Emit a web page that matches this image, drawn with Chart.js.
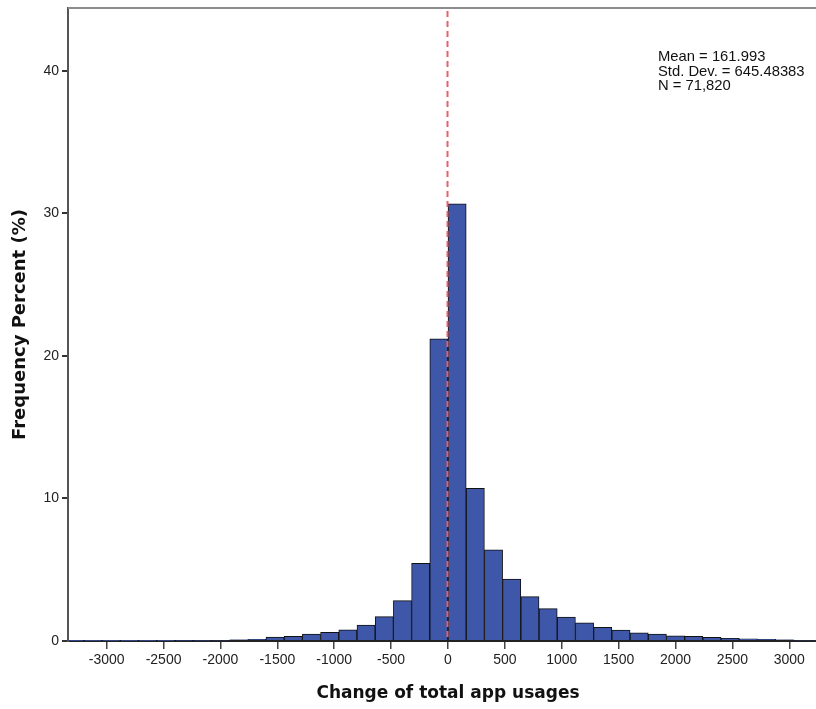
<!DOCTYPE html>
<html><head><meta charset="utf-8">
<script src="https://cdn.jsdelivr.net/npm/chart.js@4.4.1/dist/chart.umd.min.js"></script>
<style>
html,body{margin:0;padding:0;background:#fff;overflow:hidden;width:816px;height:709px}
#wrap{position:relative;width:828px;height:709px}
</style></head>
<body><div id="wrap"><canvas id="c" width="828" height="709"></canvas></div>
<script>
// Bin centres (change of total app usages), bin width 160
const binCenters = [-3280,-3120,-2960,-2800,-2640,-2480,-2320,-2160,-2000,-1840,-1680,-1520,-1360,-1200,-1040,-880,-720,-560,-400,-240,-80,
                    80,240,400,560,720,880,1040,1200,1360,1520,1680,1840,2000,2160,2320,2480,2640,2800,2960,3120,3280];
// Frequency percent per bin
const percents = [0.01,0.01,0.01,0.01,0.02,0.02,0.03,0.03,0.05,0.08,0.12,0.28,0.33,0.49,0.61,0.79,1.12,1.71,2.83,5.45,21.2,
                  30.67,10.7,6.39,4.35,3.11,2.27,1.68,1.28,0.96,0.77,0.58,0.49,0.37,0.33,0.26,0.19,0.15,0.12,0.08,0.06,0.05];
const xTicks = [-3000,-2500,-2000,-1500,-1000,-500,0,500,1000,1500,2000,2500,3000];
const yTicks = [0,10,20,30,40];
const xRange = [-3340, 3340];
const yRange = [0, 44.4];
const refLineValue = 0;
const statsLines = ["Mean = 161.993", "Std. Dev. = 645.48383", "N = 71,820"];
const xTitle = "Change of total app usages";
const yTitle = "Frequency Percent (%)";

const decor = {
  id: 'decor',
  afterDatasetsDraw(chart) {
    const {ctx, chartArea, scales} = chart;
    ctx.save();
    // top frame line
    ctx.strokeStyle = '#8c8c8c';
    ctx.lineWidth = 2;
    ctx.beginPath();
    ctx.moveTo(chartArea.left, chartArea.top);
    ctx.lineTo(chartArea.right, chartArea.top);
    ctx.stroke();
    // reference dashed line
    const x = Math.round(scales.x.getPixelForValue(refLineValue)) - 0.5;
    ctx.strokeStyle = '#e8606c';
    ctx.lineWidth = 2;
    ctx.setLineDash([6, 4]);
    ctx.beginPath();
    ctx.moveTo(x, chartArea.top + 3);
    ctx.lineTo(x, chartArea.bottom);
    ctx.stroke();
    ctx.setLineDash([]);
    // stats text
    ctx.fillStyle = '#111';
    ctx.font = '14.8px "Liberation Sans", Arial, sans-serif';
    ctx.textBaseline = 'alphabetic';
    ctx.textAlign = 'left';
    statsLines.forEach((t, i) => ctx.fillText(t, 658, 61 + i * 14.5));
    ctx.restore();
  }
};

new Chart(document.getElementById('c'), {
  type: 'bar',
  data: {
    datasets: [{
      data: binCenters.map((c, i) => ({x: c, y: percents[i]})),
      backgroundColor: 'rgb(62,87,168)',
      borderColor: '#111',
      borderWidth: 1,
      barPercentage: 1,
      categoryPercentage: 1
    }]
  },
  options: {
    responsive: false,
    devicePixelRatio: 1,
    animation: false,
    layout: {padding: {top: 8, right: 0, left: 0, bottom: 0}},
    plugins: {legend: {display: false}, tooltip: {enabled: false}},
    scales: {
      x: {
        type: 'linear',
        offset: false,
        min: xRange[0], max: xRange[1],
        afterFit(s) { s.height = 68; s.paddingLeft = 0; s.paddingRight = 0; },
        afterBuildTicks(s) { s.ticks = xTicks.map(v => ({value: v})); },
        grid: {offset: false, drawOnChartArea: false, drawTicks: true, tickLength: 8, color: '#444', lineWidth: 1.5},
        border: {display: true, color: '#222', width: 2},
        ticks: {color: '#222', padding: 3, font: {family: '"Liberation Sans", Arial, sans-serif', size: 14}, maxRotation: 0, autoSkip: false,
                callback: v => String(v)},
        title: {display: true, text: xTitle, color: '#111', padding: {top: 0, bottom: 7},
                font: {family: '"DejaVu Sans", Verdana, sans-serif', size: 17, weight: 'bold', lineHeight: 1}}
      },
      y: {
        min: yRange[0], max: yRange[1],
        afterFit(s) { s.width = 68; s.paddingTop = 0; s.paddingBottom = 0; },
        afterBuildTicks(s) { s.ticks = yTicks.map(v => ({value: v})); },
        grid: {drawOnChartArea: false, drawTicks: true, tickLength: 6, color: '#333', lineWidth: 2},
        border: {display: true, color: '#555', width: 2},
        ticks: {color: '#222', padding: 3, font: {family: '"Liberation Sans", Arial, sans-serif', size: 14}},
        title: {display: true, text: yTitle, color: '#111', padding: {top: 11, bottom: 0},
                font: {family: '"DejaVu Sans", Verdana, sans-serif', size: 18, weight: 'bold', lineHeight: 1}}
      }
    }
  },
  plugins: [decor]
});
</script></body></html>
